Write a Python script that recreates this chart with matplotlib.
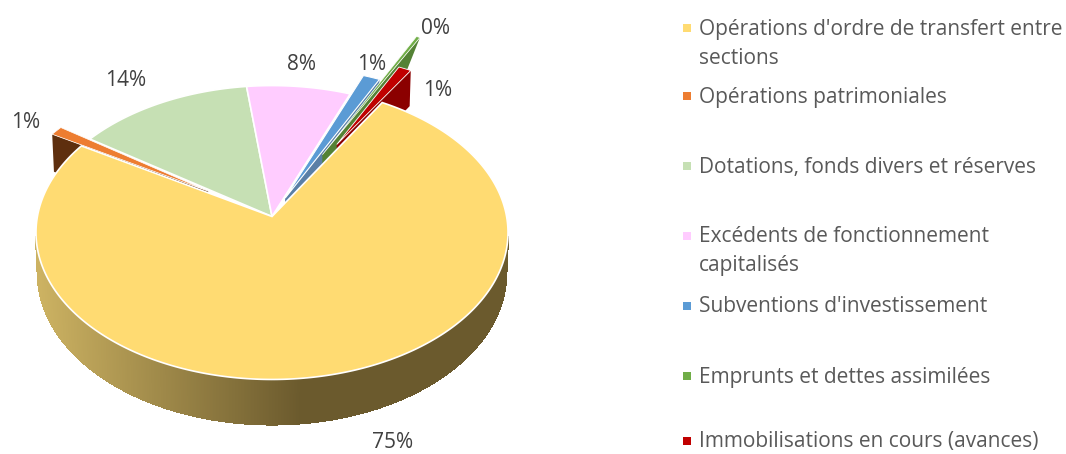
import numpy as np
import matplotlib
matplotlib.use("Agg")
import matplotlib.pyplot as plt
from matplotlib.collections import PolyCollection

categories = [
    "Opérations d'ordre de transfert entre\nsections",
    "Opérations patrimoniales",
    "Dotations, fonds divers et réserves",
    "Excédents de fonctionnement\ncapitalisés",
    "Subventions d'investissement",
    "Emprunts et dettes assimilées",
    "Immobilisations en cours (avances)",
]
values = [75.0, 1.0, 13.5, 7.9, 1.3, 0.3, 1.0]

colors = ["#FFDB72", "#ED7D31", "#C6E0B4", "#FFCCFF", "#5B9BD5", "#70AD47", "#C00000"]
wall_colors = [None, "#5E2F0E", None, None, "#5A7FA6", "#548235", "#8B0000"]
wall_edge = [None, "start", None, None, "end", "end", "end"]
wall_inset = [0, 0, 0, 0, 0, 0.28, 0]
explode = [0, 0.167, 0, 0, 0.17, 0.6, 0.31]
apex_r = [0, 0.33, 0, 0, 0.14, 0.5, 0.6]
edge_widths = [1.2, 0.5, 1.2, 1.2, 0.8, 0.5, 0.6]

label_xy = [(393, 442), (26, 123), (126, 81), (302, 64), (372, 65), (436, 29), (438, 90)]
legend_y = [28, 96, 166, 236, 306, 376, 441]

start_angle = 30.9
CX, CY, A, B, K, DEPTH = 272, 216.5, 145.2, 234.6, 0.109, 40


def project(u, v, drop=False):
    w = 1 + K * v
    x = CX + B * u / w
    y = CY - A * v / w
    if drop:
        x = CX + (x - CX) * 0.992
        y = y + DEPTH / w
    return x, y


def polar(deg, r=1.0):
    t = np.radians(deg)
    return r * np.sin(t), r * np.cos(t)


plt.rcParams["font.family"] = ["Open Sans", "DejaVu Sans"]

fig = plt.figure(figsize=(10.66, 4.54), dpi=100)
ax = fig.add_axes([0, 0, 1, 1])
ax.set_xlim(0, 1066)
ax.set_ylim(454, 0)
ax.axis("off")

# side of the big slice, shaded from left to right
angles = np.linspace(98, 262, 500)
quads, shades = [], []
for a0, a1 in zip(angles[:-1], angles[1:]):
    u0, v0 = polar(a0)
    u1, v1 = polar(a1)
    quads.append([project(u0, v0), project(u1, v1), project(u1, v1, True), project(u0, v0, True)])
    mid = project((u0 + u1) / 2, (v0 + v1) / 2)[0]
    shades.append(
        [np.interp(mid, [38, 300, 508], c) / 255 for c in ([204, 107, 107], [178, 90, 90], [98, 45, 45])]
    )
ax.add_collection(PolyCollection(quads, facecolors=shades, edgecolors=shades, linewidths=1.0, antialiaseds=False, zorder=1))

edges = start_angle + np.cumsum([0] + values) / sum(values) * 360

# inner faces of the pulled out slices, then every top
for i, col in enumerate(wall_colors):
    if col is None:
        continue
    a = edges[i] if wall_edge[i] == "start" else edges[i + 1]
    mid = (edges[i] + edges[i + 1]) / 2
    ou, ov = polar(mid, explode[i])
    pu, pv = polar(a)
    au, av = polar(mid, apex_r[i])
    tu, tv = ou + pu, ov + pv
    f = wall_inset[i]
    pts = [
        project(tu, tv),
        project(tu + (au - tu) * f, tv + (av - tv) * f, True),
        project(au, av, True),
        project(au, av),
    ]
    ax.fill(*zip(*pts), color=col, lw=0, zorder=2)

for i in [2, 3, 4, 5, 6, 1, 0]:
    mid = (edges[i] + edges[i + 1]) / 2
    arc = np.linspace(edges[i], edges[i + 1], max(4, int(values[i] * 6)))
    ou, ov = polar(mid, explode[i])
    us, vs = polar(arc)
    au, av = polar(mid, apex_r[i])
    xs, ys = project(np.r_[au, us + ou], np.r_[av, vs + ov])
    ax.fill(xs, ys, facecolor=colors[i], edgecolor="white", lw=edge_widths[i], joinstyle="miter", zorder=3)

for v, xy in zip(values, label_xy):
    ax.text(xy[0], xy[1], f"{v:.0f}%", ha="center", va="center", fontsize=15, color="#404040", zorder=5)

for name, col, y in zip(categories, colors, legend_y):
    ax.scatter([687], [y], marker="s", s=36, color=col, linewidths=0, zorder=5)
    lines = name.split("\n")
    ax.text(699, y + 1, lines[0], ha="left", va="center", fontsize=15, color="#595959", zorder=5)
    if len(lines) > 1:
        ax.text(699, y + 30, lines[1], ha="left", va="center", fontsize=15, color="#595959", zorder=5)

fig.savefig("out.png", dpi=100)
